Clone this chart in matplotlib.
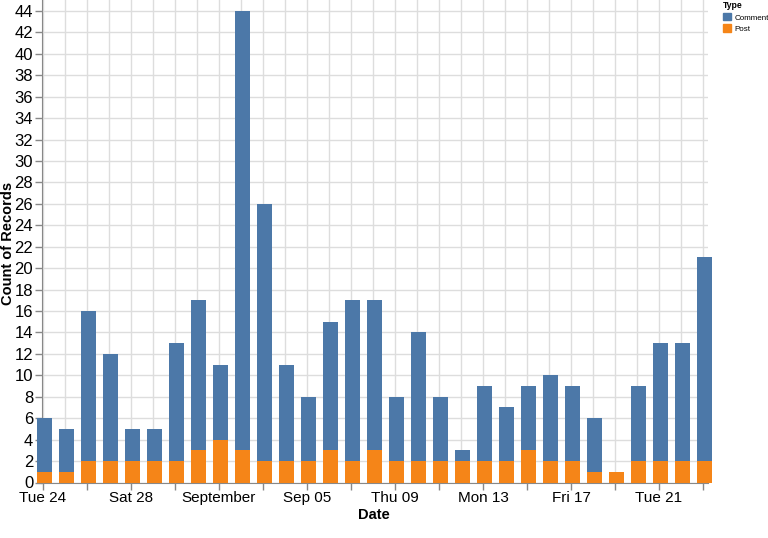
import matplotlib
matplotlib.use("Agg")
import matplotlib.pyplot as plt
import matplotlib.dates as mdates
from matplotlib.patches import Patch
import numpy as np
import pandas as pd

plt.rcParams['font.family'] = ['Liberation Sans', 'DejaVu Sans']

# data (Aug 24 .. Sep 23, 2021)
dates = pd.date_range('2021-08-24', '2021-09-23', freq='D')
totals = [6, 5, 16, 12, 5, 5, 13, 17, 11, 44, 26, 11, 8, 15, 17, 17,
          8, 14, 8, 3, 9, 7, 9, 10, 9, 6, 1, 9, 13, 13, 21]
posts = [1, 1, 2, 2, 2, 2, 2, 3, 4, 3, 2, 2, 2, 3, 2, 3,
         2, 2, 2, 2, 2, 2, 3, 2, 2, 1, 1, 2, 2, 2, 2]
comments = [t - p for t, p in zip(totals, posts)]
tick_dates = pd.date_range('2021-08-24', '2021-09-23', freq='4D')
tick_labels = ['Tue 24', 'Sat 28', 'September', 'Sep 05', 'Thu 09', 'Mon 13', 'Fri 17', 'Tue 21']

blue = '#4c78a8'
orange = '#f58518'
grid_c = '#dddddd'
axis_c = '#888888'

fig = plt.figure(figsize=(7.68, 5.38), dpi=100)
ax = fig.add_axes([41.5/768, 1-482.5/538, (708-41.5)/768, 482.5/538])

x = mdates.date2num(dates) + 0.08
w = 0.7
ax.bar(x, posts, width=w, color=orange, clip_on=False, zorder=3)
ax.bar(x, comments, width=w, bottom=posts, color=blue, clip_on=False, zorder=3)

x0 = mdates.date2num(dates[0])
ax.set_xlim(x0 - 0.07, x0 + 30.23)
ax.set_ylim(0, 482.5/10.716)

# gridlines: daily vertical, every 2 on y
for d in mdates.date2num(dates):
    ax.axvline(d, color=grid_c, lw=1, zorder=0)
ax.set_yticks(np.arange(0, 46, 2))
ax.yaxis.grid(True, color=grid_c, lw=1, zorder=0)
ax.set_axisbelow(True)

# x ticks every 2 days, labels every 4
ax.set_xticks(mdates.date2num(pd.date_range('2021-08-24', '2021-09-23', freq='2D')))
ax.set_xticklabels([''] * 16)
for d, lab in zip(mdates.date2num(tick_dates), tick_labels):
    ax.text(d, -0.75, lab, ha='center', va='top', fontsize=11)

ax.tick_params(axis='both', colors=axis_c, length=5, width=1, labelcolor='black')
ax.tick_params(axis='y', pad=1, labelsize=12)
for s in ['top', 'right']:
    ax.spines[s].set_visible(False)
for s in ['left', 'bottom']:
    ax.spines[s].set_color(axis_c)

fig.text(374/768, 1-515/538, 'Date', fontsize=10.5, fontweight='bold', ha='center', va='center')
fig.text(8/768, 1-243/538, 'Count of Records', fontsize=10.5, fontweight='bold',
         ha='center', va='center', rotation=90)

handles = [Patch(color=blue, label='Comment'), Patch(color=orange, label='Post')]
leg = fig.legend(handles=handles, title='Type', loc='upper left',
                 bbox_to_anchor=(717/768, 1.008), frameon=False, fontsize=5.8,
                 title_fontproperties={'weight': 'bold', 'size': 6.2},
                 handlelength=1.0, handleheight=1.0, handletextpad=0.5,
                 labelspacing=0.35, borderpad=0.2, alignment='left')

fig.savefig('out.png', dpi=100)
